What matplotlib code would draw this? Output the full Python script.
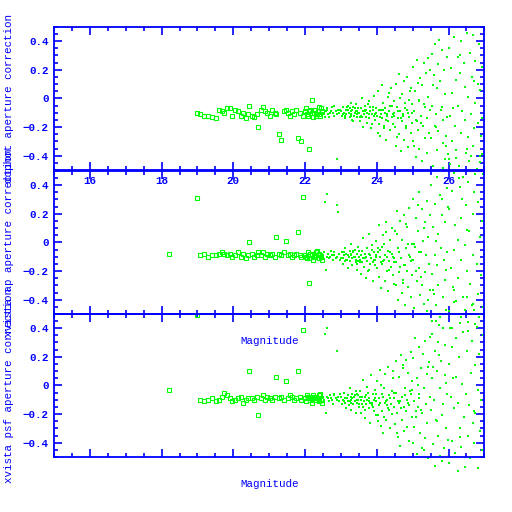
import numpy as np
import matplotlib
matplotlib.use("Agg")
import matplotlib.pyplot as plt
from matplotlib.ticker import MultipleLocator

nan = np.nan

# magnitude of each star, and its aperture correction from the three reductions
mag = [18.20, 19.00, 19.08, 19.18, 19.30, 19.40, 19.52, 19.60, 19.68, 19.75,
       19.82, 19.90, 19.96, 20.05, 20.12, 20.20, 20.28, 20.34, 20.40, 20.45,
       20.52, 20.58, 20.65, 20.70, 20.76, 20.82, 20.88, 20.95, 21.02, 21.08,
       21.15, 21.20, 21.28, 21.34, 21.40, 21.47, 21.52, 21.58, 21.64, 21.70,
       21.76, 21.80, 21.86, 21.90, 21.94, 22.00, 22.05, 22.10, 22.15, 22.20,
       22.25, 22.30, 22.35, 22.40, 22.45, 22.50, 22.55, 22.58, 22.60, 22.65,
       22.70, 22.75, 22.80, 22.85, 22.90, 22.92, 22.95,
       22.02, 22.08, 22.12, 22.18, 22.22, 22.28, 22.32, 22.38, 22.42, 22.48,
       22.52, 22.62, 22.68, 22.72, 22.78, 22.82, 22.88, 22.98, 23.08, 23.18,
       23.28, 23.38, 23.48, 23.58, 23.68, 23.78, 23.88, 23.98, 24.08, 24.18,
       24.28, 24.38, 24.48, 24.58, 24.68, 24.78, 24.88, 24.98, 25.08, 25.18,
       23.01, 23.04, 23.05, 23.09, 23.11, 23.14, 23.15, 23.19, 23.22, 23.24,
       23.25, 23.27, 23.29, 23.31, 23.32, 23.35, 23.37, 23.39, 23.41, 23.42,
       23.44, 23.45, 23.47, 23.49, 23.12, 23.21, 23.34, 23.46, 23.07, 23.28,
       23.51, 23.52, 23.55, 23.57, 23.59, 23.61, 23.62, 23.64, 23.67, 23.69,
       23.71, 23.72, 23.74, 23.77, 23.79, 23.81, 23.82, 23.84, 23.87, 23.89,
       23.91, 23.92, 23.94, 23.97, 23.99, 23.54, 23.66, 23.76, 23.86, 23.95,
       24.01, 24.02, 24.05, 24.07, 24.09, 24.11, 24.14, 24.15, 24.17, 24.21,
       24.22, 24.24, 24.27, 24.29, 24.31, 24.32, 24.35, 24.37, 24.39, 24.41,
       24.42, 24.45, 24.47, 24.49, 24.04, 24.12, 24.25, 24.34, 24.44, 24.19,
       24.51, 24.53, 24.54, 24.57, 24.59, 24.61, 24.62, 24.65, 24.67, 24.69,
       24.71, 24.72, 24.75, 24.77, 24.79, 24.81, 24.84, 24.85, 24.87, 24.89,
       24.91, 24.94, 24.95, 24.97, 24.99, 24.56, 24.64, 24.74, 24.82, 24.92,
       25.01, 25.02, 25.05, 25.07, 25.09, 25.11, 25.12, 25.15, 25.17, 25.19,
       25.21, 25.22, 25.25, 25.27, 25.29, 25.31, 25.34, 25.35, 25.37, 25.39,
       25.41, 25.42, 25.45, 25.47, 25.49, 25.04, 25.14, 25.24, 25.32, 25.44,
       25.51, 25.53, 25.54, 25.57, 25.59, 25.61, 25.62, 25.65, 25.67, 25.69,
       25.71, 25.72, 25.75, 25.77, 25.79, 25.81, 25.84, 25.85, 25.87, 25.89,
       25.91, 25.94, 25.95, 25.97, 25.99, 25.56, 25.64, 25.74, 25.82, 25.92,
       26.01, 26.02, 26.05, 26.07, 26.09, 26.11, 26.14, 26.15, 26.18, 26.21,
       26.22, 26.25, 26.27, 26.29, 26.31, 26.34, 26.35, 26.38, 26.41, 26.42,
       26.45, 26.47, 26.49, 26.51, 26.54, 26.55, 26.58, 26.61, 26.62, 26.65,
       26.67, 26.69, 26.71, 26.74, 26.75, 26.78, 26.81, 26.82, 26.85, 26.87,
       26.89, 26.91, 26.94, 26.95, 26.98, 26.12, 26.32, 26.52, 26.72, 26.92]

corr_phot = [nan, -0.10, -0.11, -0.12, -0.12, -0.13, -0.14, -0.08, -0.09, -0.10,
             -0.07, -0.07, -0.12, -0.08, -0.09, -0.12, -0.10, -0.14, -0.11, -0.05,
             -0.12, -0.13, -0.11, -0.20, -0.08, -0.06, -0.09, -0.10, -0.12, -0.08,
             -0.10, -0.11, -0.25, -0.29, -0.09, -0.08, -0.10, -0.12, -0.09, -0.11,
             -0.08, -0.28, -0.10, -0.30, -0.12, -0.09, -0.11, -0.35, -0.08, -0.01,
             -0.10, -0.12, -0.09, -0.11, -0.07, -0.10, -0.13, -0.09, -0.08, -0.11,
             -0.10, -0.06, -0.12, -0.09, -0.42, -0.08, -0.10,
             -0.07, -0.12, -0.09, -0.10, -0.13, -0.08, -0.11, -0.06, -0.12, -0.09,
             -0.11, -0.07, -0.13, -0.09, -0.10, -0.05, -0.11, -0.08, -0.10, -0.06,
             -0.12, -0.07, -0.10, -0.13, -0.08, -0.11, -0.06, -0.10, -0.13, -0.08,
             -0.11, -0.05, -0.12, -0.09, -0.14, -0.07, -0.10, -0.04, -0.15, -0.01,
             -0.09, -0.12, -0.06, -0.10, -0.14, -0.08, -0.11, -0.05, -0.10, -0.13,
             -0.07, -0.09, -0.11, -0.15, -0.08, -0.06, -0.12, -0.10, -0.04, -0.09,
             -0.13, -0.11, -0.07, -0.10, -0.12, -0.08, -0.16, -0.09, -0.11, -0.03,
             -0.10, -0.16, -0.07, -0.12, 0.00, -0.09, -0.20, -0.11, -0.05, -0.13,
             -0.08, -0.17, -0.10, -0.02, -0.14, -0.09, -0.06, -0.21, -0.11, -0.08,
             0.02, -0.12, -0.15, -0.07, -0.10, -0.13, -0.09, -0.04, -0.18, -0.11,
             -0.12, 0.05, -0.18, -0.08, -0.26, -0.11, 0.09, -0.14, -0.03, -0.21,
             -0.10, -0.07, -0.29, -0.12, 0.01, -0.16, -0.09, -0.22, 0.07, -0.13,
             -0.05, -0.18, -0.10, -0.02, -0.24, -0.08, -0.15, 0.04, -0.11, -0.19,
             -0.20, 0.10, -0.33, -0.06, -0.14, 0.17, -0.25, -0.09, -0.37, 0.03,
             -0.16, -0.11, -0.29, 0.12, -0.03, -0.21, -0.08, 0.15, -0.34, -0.13,
             -0.01, -0.24, 0.07, -0.17, -0.10, -0.27, 0.00, -0.12, -0.19, 0.05,
             0.22, -0.30, -0.09, 0.05, -0.41, -0.16, 0.27, -0.22, -0.02, -0.35,
             0.14, -0.12, -0.44, 0.09, -0.19, 0.25, -0.06, -0.28, 0.18, -0.38,
             -0.14, 0.01, -0.24, 0.20, -0.08, -0.33, 0.11, -0.17, -0.04, 0.28,
             -0.28, 0.31, -0.05, -0.47, 0.16, -0.19, 0.38, -0.11, -0.36, 0.07,
             0.24, -0.23, -0.50, 0.12, -0.08, 0.34, -0.31, -0.15, 0.20, -0.42,
             0.03, -0.26, 0.29, -0.13, -0.39, 0.09, -0.20, 0.41, -0.06, -0.33,
             0.35, -0.42, -0.12, 0.21, -0.30, 0.04, -0.52, 0.43, -0.19, 0.13,
             -0.36, -0.05, 0.29, -0.47, 0.18, -0.24, 0.40, -0.09, -0.55, 0.25,
             -0.15, 0.08, -0.38, 0.46, -0.27, 0.01, -0.44, 0.32, -0.11, 0.15,
             -0.33, 0.44, -0.21, -0.03, 0.26, -0.49, 0.10, -0.17, 0.38, -0.40,
             0.06, -0.26, 0.22, -0.53, 0.41, -0.07, 0.30, -0.35, 0.12, -0.14]

corr_ap = [-0.08, 0.31, -0.09, -0.08, -0.10, -0.09, -0.09, -0.08, -0.07, -0.08,
           -0.09, -0.08, -0.10, -0.09, -0.07, -0.10, -0.08, -0.11, -0.09, 0.00,
           -0.08, -0.10, -0.09, -0.07, -0.09, -0.07, -0.10, -0.08, -0.09, -0.08,
           -0.10, 0.04, -0.08, -0.09, -0.07, 0.01, -0.09, -0.08, -0.10, -0.09,
           -0.08, 0.07, -0.09, -0.10, 0.32, -0.09, -0.11, -0.28, -0.08, -0.09,
           -0.10, -0.07, -0.09, -0.08, -0.10, -0.09, 0.28, -0.19, 0.34, -0.08,
           -0.10, -0.09, -0.07, -0.11, 0.26, 0.21, -0.08,
           -0.10, -0.07, -0.11, -0.08, -0.12, -0.09, -0.06, -0.11, -0.09, -0.12,
           -0.07, -0.10, -0.11, -0.06, -0.12, -0.09, -0.10, -0.12, -0.07, -0.12,
           -0.08, -0.10, -0.13, -0.06, -0.11, -0.08, -0.14, -0.09, -0.05, -0.13,
           -0.10, -0.07, -0.14, -0.04, -0.11, -0.16, -0.01, -0.12, -0.20, -0.07,
           -0.11, -0.07, -0.15, -0.09, -0.04, -0.12, -0.08, -0.18, -0.10, -0.06,
           -0.13, -0.01, -0.09, -0.11, -0.16, -0.07, -0.10, -0.05, -0.14, -0.12,
           -0.08, -0.19, -0.03, -0.10, -0.13, -0.09, -0.06, -0.15, -0.11, -0.08,
           -0.06, -0.12, -0.22, -0.09, -0.14, 0.03, -0.11, -0.17, -0.08, -0.25,
           -0.10, -0.04, -0.13, -0.19, 0.06, -0.09, -0.15, -0.11, -0.02, -0.27,
           -0.12, -0.07, -0.16, -0.10, 0.01, -0.14, -0.08, -0.20, -0.05, -0.12,
           -0.18, -0.07, 0.12, -0.24, -0.10, -0.32, -0.03, -0.15, 0.05, -0.12,
           -0.27, -0.09, 0.14, -0.20, -0.06, -0.34, -0.13, 0.02, -0.17, -0.08,
           0.10, -0.23, -0.11, -0.29, -0.04, -0.14, 0.07, -0.19, -0.10, -0.01,
           0.08, -0.30, -0.14, 0.22, -0.40, -0.07, -0.21, 0.15, -0.11, -0.35,
           0.02, -0.26, -0.16, 0.19, -0.44, -0.04, -0.20, 0.11, -0.31, -0.09,
           0.24, -0.13, -0.38, -0.01, -0.23, 0.06, -0.17, -0.28, 0.13, -0.10,
           -0.12, 0.30, -0.46, -0.03, 0.17, -0.27, -0.50, 0.08, -0.18, 0.35,
           -0.37, -0.07, 0.23, -0.30, 0.01, -0.43, 0.14, -0.21, -0.09, 0.29,
           -0.48, 0.04, -0.15, 0.19, -0.33, -0.01, 0.26, -0.24, 0.10, -0.40,
           0.40, -0.22, -0.55, 0.11, -0.36, 0.27, -0.09, -0.44, 0.46, -0.16,
           -0.30, 0.06, 0.33, -0.52, -0.04, 0.19, -0.38, 0.52, -0.12, -0.26,
           0.14, -0.47, 0.38, -0.07, 0.25, -0.33, 0.01, -0.58, 0.30, -0.19,
           -0.48, 0.23, 0.55, -0.18, -0.60, 0.36, -0.05, -0.33, 0.12, 0.59,
           -0.41, 0.02, -0.25, 0.45, -0.56, 0.17, -0.12, 0.30, -0.38, 0.50,
           -0.02, -0.50, 0.26, -0.20, 0.42, -0.62, 0.08, -0.29, 0.60, -0.44,
           0.20, -0.09, 0.35, -0.57, 0.48, -0.15, -0.36, 0.28, -0.52, 0.04,
           0.56, -0.23, 0.15, -0.45, -0.08, -0.31, 0.39, 0.09, -0.47, 0.62]

corr_psf = [-0.03, 0.49, -0.10, -0.11, -0.10, -0.09, -0.11, -0.10, -0.08, -0.05,
            -0.07, -0.09, -0.11, -0.10, -0.09, -0.08, -0.12, -0.10, -0.09, 0.10,
            -0.09, -0.10, -0.08, -0.21, -0.09, -0.07, -0.10, -0.08, -0.09, -0.10,
            -0.08, 0.06, -0.09, -0.08, -0.10, 0.03, -0.09, -0.07, -0.08, -0.10,
            -0.09, 0.10, -0.08, -0.10, 0.39, -0.09, -0.07, -0.08, -0.10, -0.09,
            -0.08, -0.10, -0.09, -0.07, -0.10, -0.08, 0.36, -0.19, 0.40, -0.09,
            -0.07, -0.10, -0.06, -0.09, 0.24, -0.08, -0.11,
            -0.11, -0.08, -0.09, -0.12, -0.07, -0.10, -0.09, -0.11, -0.06, -0.12,
            -0.10, -0.08, -0.11, -0.09, -0.13, -0.07, -0.10, -0.06, -0.11, -0.09,
            -0.12, -0.07, -0.10, -0.13, -0.08, -0.11, -0.15, -0.06, -0.12, -0.08,
            -0.14, -0.09, -0.05, -0.11, -0.16, -0.07, -0.12, -0.03, -0.18, -0.09,
            -0.08, -0.13, -0.10, -0.05, -0.12, -0.16, -0.09, -0.07, -0.14, -0.11,
            -0.02, -0.10, -0.17, -0.06, -0.09, -0.13, -0.08, -0.11, -0.19, -0.04,
            -0.10, -0.12, -0.07, -0.15, -0.09, -0.11, -0.13, -0.06, -0.10, -0.08,
            -0.13, -0.04, -0.10, -0.19, -0.08, -0.15, 0.04, -0.11, -0.23, -0.07,
            -0.13, -0.10, -0.01, -0.16, -0.09, -0.26, -0.12, 0.07, -0.14, -0.06,
            -0.18, -0.10, -0.03, -0.21, -0.11, -0.08, -0.17, -0.05, -0.12, -0.09,
            0.03, -0.21, -0.09, -0.14, 0.11, -0.28, -0.06, -0.18, -0.33, -0.02,
            -0.12, 0.08, -0.24, -0.10, -0.16, 0.13, -0.07, -0.30, -0.13, -0.04,
            -0.20, 0.05, -0.15, -0.09, -0.25, 0.00, -0.11, -0.17, 0.10, -0.22,
            -0.27, -0.05, 0.17, -0.19, -0.36, 0.06, -0.12, -0.42, 0.21, -0.08,
            -0.24, 0.12, -0.15, -0.32, -0.02, 0.18, -0.29, -0.10, 0.09, -0.39,
            -0.14, 0.23, -0.06, -0.22, 0.03, -0.33, -0.11, 0.14, -0.18, -0.04,
            0.19, -0.40, -0.11, 0.33, -0.22, 0.05, -0.48, -0.15, 0.27, -0.06,
            -0.33, 0.12, -0.44, -0.19, 0.22, -0.02, -0.37, 0.31, -0.13, 0.08,
            -0.26, -0.51, 0.16, -0.08, 0.34, -0.29, 0.00, -0.17, -0.45, 0.13,
            -0.17, 0.36, 0.05, -0.41, -0.10, 0.24, -0.56, 0.45, -0.25, 0.10,
            -0.35, 0.30, -0.02, -0.49, 0.17, -0.21, 0.40, -0.13, -0.44, 0.07,
            0.28, -0.30, -0.06, 0.50, -0.38, 0.13, -0.24, 0.21, -0.53, 0.02,
            0.15, -0.54, 0.40, -0.08, 0.27, -0.39, 0.58, -0.16, -0.47, 0.06,
            0.33, -0.60, -0.12, 0.20, -0.30, 0.48, -0.43, 0.01, 0.37, -0.22,
            -0.57, 0.53, -0.06, 0.24, -0.35, 0.44, -0.14, -0.51, 0.09, 0.31,
            -0.26, 0.57, -0.40, 0.14, -0.19, 0.41, -0.58, -0.03, 0.22, -0.32,
            0.50, -0.10, -0.45, 0.35, -0.25, 0.05, -0.36, 0.62, -0.18, -0.50]

ylabels = ["dophot aperture correction",
           "xvista ap aperture correction",
           "xvista psf aperture correction"]

blue = "#0000ff"
green = "#00ff00"

plt.rcParams["font.family"] = ["Liberation Mono", "DejaVu Sans Mono"]
plt.rcParams["font.weight"] = "bold"
plt.rcParams["font.size"] = 7.8

fig = plt.figure(figsize=(5.12, 5.12), dpi=100)

mag = np.array(mag)
bright = mag < 22.5
panel_bottoms = [0.668, 0.3867, 0.1074]

for i, corr in enumerate([corr_phot, corr_ap, corr_psf]):
    corr = np.array(corr)
    ax = fig.add_axes([0.1055, panel_bottoms[i], 0.8406, 0.2797])
    ax.patch.set_alpha(0)
    ax.plot(mag[bright], corr[bright], "s", mfc="none", mec=green, ms=3.0,
            mew=0.8, clip_on=False)
    ax.plot(mag[~bright], corr[~bright], "s", color=green, ms=1.8, mew=0,
            clip_on=False)
    ax.set_xlim(15, 27)
    ax.set_ylim(-0.5, 0.5)

    for s in ax.spines.values():
        s.set_color(blue)
        s.set_linewidth(1.3)
    ax.xaxis.set_major_locator(MultipleLocator(2))
    ax.xaxis.set_minor_locator(MultipleLocator(0.5))
    ax.yaxis.set_major_locator(MultipleLocator(0.2))
    ax.yaxis.set_minor_locator(MultipleLocator(0.05))
    ax.tick_params(which="both", direction="in", top=True, right=True,
                   colors=blue, width=1.2)
    ax.tick_params(which="major", length=6, pad=4)
    ax.tick_params(which="minor", length=3)
    ax.set_yticks([-0.4, -0.2, 0, 0.2, 0.4])
    ax.set_yticklabels(["\u22120.4", "\u22120.2", "0", "0.2", "0.4"])

    if i > 0:
        ax.set_xticklabels([])
        ax.set_xlabel("Magnitude", color=blue, va="center")
        ax.xaxis.set_label_coords(0.5, -0.185)

    ax.set_ylabel(ylabels[i], color=blue, va="center")
    ax.yaxis.set_label_coords(-0.105, 0.5)

fig.savefig("out.png", dpi=100)
